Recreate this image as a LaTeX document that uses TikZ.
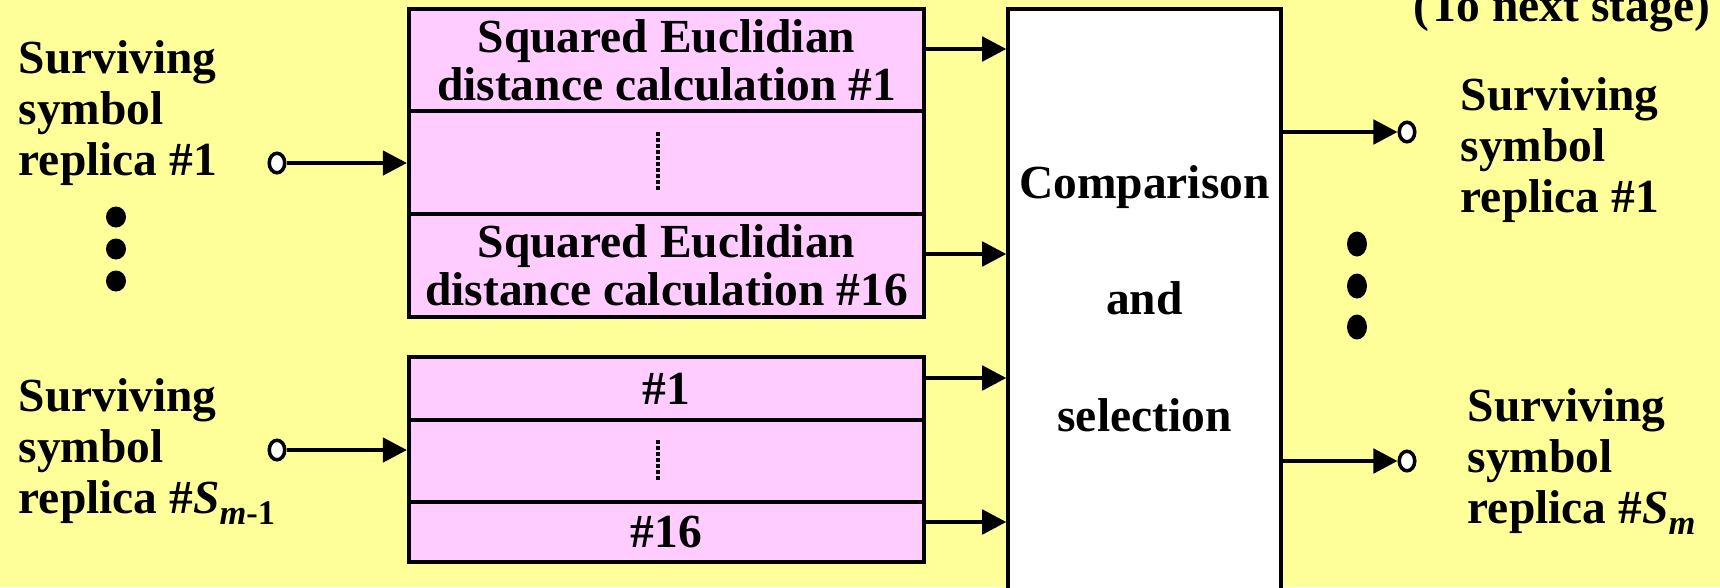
\documentclass[tikz,border=0pt]{standalone}
\usepackage{fontspec}
\setmainfont{Liberation Serif}
\usetikzlibrary{arrows.meta,shapes.geometric}
\definecolor{bgyellow}{HTML}{FFFF99}
\definecolor{cellpink}{HTML}{FFCCFF}
\newcommand\lblfont{\fontsize{13.5pt}{14.5pt}\selectfont\bfseries}
\newcommand\boxfont{\fontsize{13.5pt}{13.66pt}\selectfont\bfseries}
\newcommand\cmpfont{\fontsize{13.5pt}{33pt}\selectfont\bfseries}
\newcommand\mysubs[1]{\raisebox{-3.4pt}{\fontsize{9.8pt}{10pt}\selectfont #1}}
\begin{document}
\begin{tikzpicture}[x=0.01cm,y=-0.01cm,
  cell/.style={draw=black, line width=1.14pt, fill=cellpink, minimum width=5.15cm,
    inner sep=0pt, align=center, font=\boxfont},
  cmpbox/.style={draw=black, line width=0.95pt, fill=white, minimum width=2.73cm,
    minimum height=6.11cm, inner sep=0pt},
  lbl/.style={inner sep=0pt, align=left, font=\lblfont, anchor=base west},
  term/.style={ellipse, draw=black, line width=1pt, fill=white, inner sep=0pt,
    minimum width=0.155cm, minimum height=0.195cm},
  arr/.style={line width=0.95pt, -{Triangle[length=2.4mm,width=2.45mm]}},
  dotline/.style={line width=1pt, dash pattern=on 0.035cm off 0.025cm}
]
\useasboundingbox (0,0) rectangle (1720,587);
\clip (0,0) rectangle (1720,587);
\fill[bgyellow] (0,0) rectangle (1720,587);

% comparison box
\node[cmpbox] (cmp) at (1144.5,314.5) {};
\node[inner sep=0pt, align=center, font=\cmpfont, anchor=base] (cmptext) at (1144.5,431)
  {Comparison\\and\\selection};

% upper pink box
\node[cell, minimum height=1.02cm] (c1) at (666.5,60) {Squared Euclidian\\distance calculation \#1};
\node[cell, minimum height=1.03cm] (c2) at (666.5,162.5) {};
\node[cell, minimum height=1.03cm] (c3) at (666.5,265.5) {Squared Euclidian\\distance calculation \#16};
\draw[dotline] (658,132) -- (658,192);

% lower pink box
\node[cell, minimum height=0.63cm] (d1) at (666.5,388.5) {\#1};
\node[cell, minimum height=0.82cm] (d2) at (666.5,461) {};
\node[cell, minimum height=0.60cm] (d3) at (666.5,532) {\#16};
\draw[dotline] (658,440) -- (658,482);

% input labels and terminals
\node[lbl] (lab1) at (18,175) {Surviving\\symbol\\replica \#1};
\node[lbl] (lab2) at (18,513) {Surviving\\symbol\\replica \#\textit{S}\mysubs{\textit{m}-1}};
\node[term] (i1) at (277,163) {};
\node[term] (i2) at (277,450) {};
\draw[arr] (i1) -- (i1 -| c2.west);
\draw[arr] (i2) -- (i2 -| d2.west);

% vertical ellipsis left
\fill (116,217) ellipse [x radius=10, y radius=10.5];
\fill (116,249) ellipse [x radius=10, y radius=10.5];
\fill (116,281) ellipse [x radius=10, y radius=10.5];

% arrows into comparison
\draw[arr] (c1.east |- 0,49) -- (cmp.west |- 0,49);
\draw[arr] (c3.east |- 0,254) -- (cmp.west |- 0,254);
\draw[arr] (d1.east |- 0,378) -- (cmp.west |- 0,378);
\draw[arr] (d3.east |- 0,522) -- (cmp.west |- 0,522);

% outputs
\node[term] (o1) at (1407,132) {};
\node[term] (o2) at (1407,461) {};
\draw[arr] (o1 -| cmp.east) -- (o1);
\draw[arr] (o2 -| cmp.east) -- (o2);
\node[lbl] (lab3) at (1460,212) {Surviving\\symbol\\replica \#1};
\node[lbl] (lab4) at (1467,523) {Surviving\\symbol\\replica \#\textit{S}\mysubs{\textit{m}}};
\node[lbl] (next) at (1413,21) {(To next stage)};

% vertical ellipsis right
\fill (1357,244) ellipse [x radius=10, y radius=12.5];
\fill (1357,286) ellipse [x radius=10, y radius=12.5];
\fill (1357,327) ellipse [x radius=10, y radius=12.5];
\end{tikzpicture}
\end{document}
